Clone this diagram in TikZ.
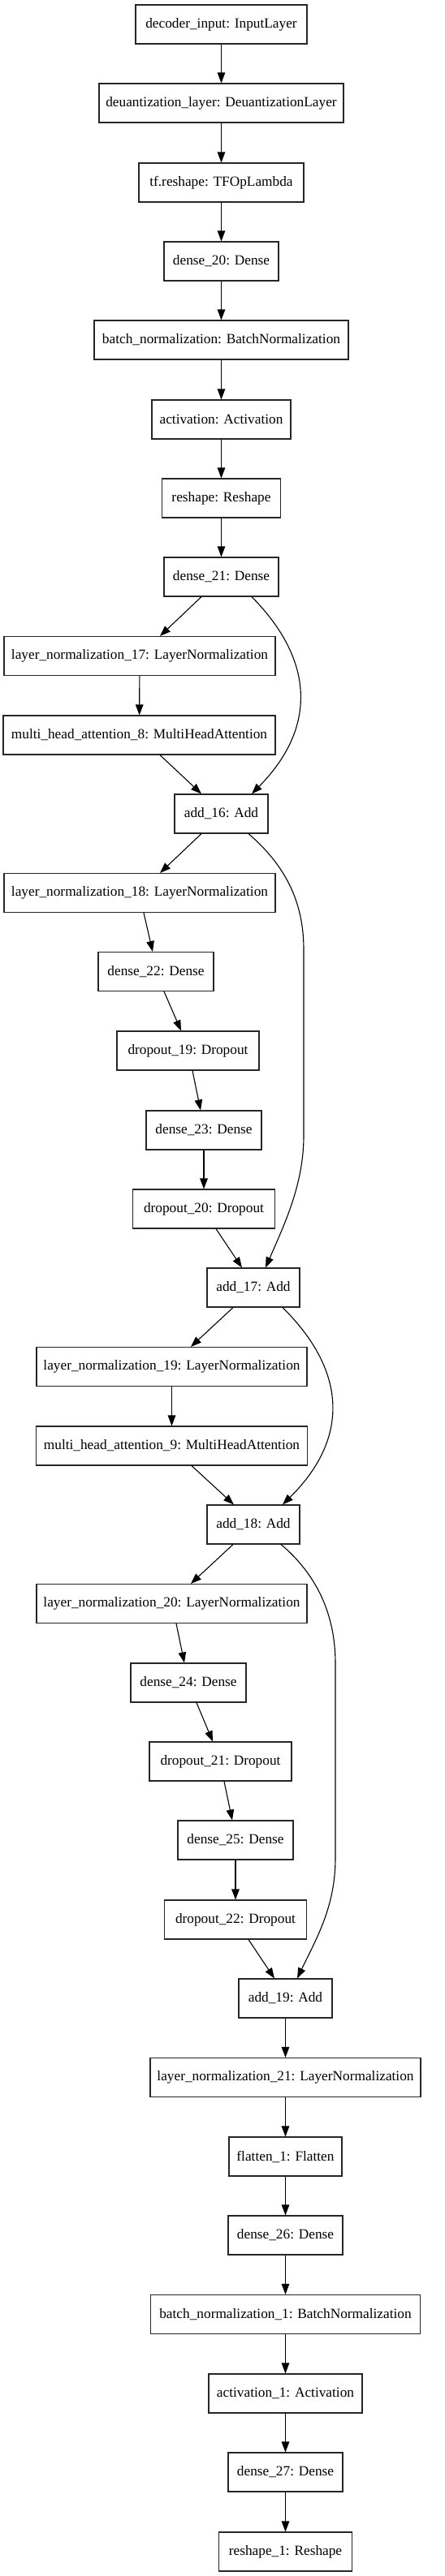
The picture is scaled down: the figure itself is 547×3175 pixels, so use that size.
\documentclass[tikz,border=0pt]{standalone}
\usepackage{fontspec}
\setmainfont{Liberation Serif}
\usetikzlibrary{arrows.meta}
\begin{document}
\begin{tikzpicture}[x=1pt,y=1pt,
  box/.style={draw=black!85, line width=1.1pt, rectangle, inner sep=0pt, minimum height=48pt,
    font=\fontsize{17.3}{20}\selectfont},
  arr/.style={draw=black, line width=1.1pt, -{Triangle[length=13pt,width=9.5pt]}}]
\useasboundingbox (0,0) rectangle (547,-3175);
\fill[white] (0,0) rectangle (547,-3175);
% nodes
\node[box, minimum width=211pt] (inp) at (272.5,-30) {decoder\_input: InputLayer};
\node[box, minimum width=301pt] (deq) at (272.5,-127) {deuantization\_layer: DeuantizationLayer};
\node[box, minimum width=203pt] (tfr) at (272.5,-225) {tf.reshape: TFOpLambda};
\node[box, minimum width=141pt] (d20) at (272.5,-322) {dense\_20: Dense};
\node[box, minimum width=313pt] (bn) at (272.5,-419) {batch\_normalization: BatchNormalization};
\node[box, minimum width=171pt] (act) at (272.5,-517) {activation: Activation};
\node[box, minimum width=146pt] (rsh) at (272.5,-614) {reshape: Reshape};
\node[box, minimum width=141pt] (d21) at (272.5,-711) {dense\_21: Dense};
\node[box, minimum width=334pt] (ln17) at (172,-808.5) {layer\_normalization\_17: LayerNormalization};
\node[box, minimum width=335pt] (mha8) at (171.5,-906) {multi\_head\_attention\_8: MultiHeadAttention};
\node[box, minimum width=115pt] (add16) at (272.5,-1003) {add\_16: Add};
\node[box, minimum width=334pt] (ln18) at (172,-1100.5) {layer\_normalization\_18: LayerNormalization};
\node[box, minimum width=142pt] (d22) at (192,-1197.5) {dense\_22: Dense};
\node[box, minimum width=175pt] (do19) at (231.5,-1295) {dropout\_19: Dropout};
\node[box, minimum width=142pt] (d23) at (251,-1393) {dense\_23: Dense};
\node[box, minimum width=175pt] (do20) at (251,-1490) {dropout\_20: Dropout};
\node[box, minimum width=114pt] (add17) at (312,-1587) {add\_17: Add};
\node[box, minimum width=333pt] (ln19) at (211.5,-1684.5) {layer\_normalization\_19: LayerNormalization};
\node[box, minimum width=334pt] (mha9) at (211.5,-1782) {multi\_head\_attention\_9: MultiHeadAttention};
\node[box, minimum width=114pt] (add18) at (312,-1879) {add\_18: Add};
\node[box, minimum width=333pt] (ln20) at (211.5,-1976.5) {layer\_normalization\_20: LayerNormalization};
\node[box, minimum width=142pt] (d24) at (232,-2074) {dense\_24: Dense};
\node[box, minimum width=175pt] (do21) at (271.5,-2171) {dropout\_21: Dropout};
\node[box, minimum width=142pt] (d25) at (290,-2268) {dense\_25: Dense};
\node[box, minimum width=175pt] (do22) at (290,-2366) {dropout\_22: Dropout};
\node[box, minimum width=115pt] (add19) at (351.5,-2463) {add\_19: Add};
\node[box, minimum width=333pt] (ln21) at (351.5,-2560.5) {layer\_normalization\_21: LayerNormalization};
\node[box, minimum width=139pt] (fl1) at (351.5,-2658) {flatten\_1: Flatten};
\node[box, minimum width=141pt] (d26) at (351.5,-2755) {dense\_26: Dense};
\node[box, minimum width=332pt] (bn1) at (351.5,-2852.5) {batch\_normalization\_1: BatchNormalization};
\node[box, minimum width=189pt] (act1) at (351.5,-2950) {activation\_1: Activation};
\node[box, minimum width=141pt] (d27) at (351.5,-3047) {dense\_27: Dense};
\node[box, minimum width=164pt] (rsh1) at (351.5,-3145) {reshape\_1: Reshape};
% waypoints of the long skip connections
\coordinate (k2a) at (374,-1170);
\coordinate (k2b) at (374,-1400);
\coordinate (k4a) at (413,-2050);
\coordinate (k4b) at (413,-2290);
% straight chain
\draw[arr] (inp) -- (deq);
\draw[arr] (deq) -- (tfr);
\draw[arr] (tfr) -- (d20);
\draw[arr] (d20) -- (bn);
\draw[arr] (bn) -- (act);
\draw[arr] (act) -- (rsh);
\draw[arr] (rsh) -- (d21);
\draw[arr] ([xshift=-24.5pt]d21.south) -- ([xshift=25pt]ln17.north);
\draw[arr] (ln17) -- (mha8);
\draw[arr] ([xshift=25.5pt]mha8.south) -- ([xshift=-24.5pt]add16.north);
\draw[arr] ([xshift=37.5pt]d21.south) .. controls +(79,-80) and +(79,80) .. ([xshift=37.5pt]add16.north);
\draw[arr] ([xshift=-24.5pt]add16.south) -- ([xshift=25pt]ln18.north);
\draw[arr] ([xshift=5pt]ln18.south) -- ([xshift=-4pt]d22.north);
\draw[arr] ([xshift=10pt]d22.south) -- ([xshift=-8.5pt]do19.north);
\draw[arr] ([xshift=5.5pt]do19.south) -- ([xshift=-4pt]d23.north);
\draw[arr] (d23) -- (do20);
\draw[arr] ([xshift=15pt]do20.south) -- ([xshift=-14pt]add17.north);
\draw[arr] ([xshift=33.5pt]add16.south) .. controls +(44,-38) and +(0,60) .. (k2a) -- (k2b)
   .. controls +(0,-60) and +(23,53) .. ([xshift=15pt]add17.north);
\draw[arr] ([xshift=-25pt]add17.south) -- ([xshift=23.5pt]ln19.north);
\draw[arr] (ln19) -- (mha9);
\draw[arr] ([xshift=24.5pt]mha9.south) -- ([xshift=-24pt]add18.north);
\draw[arr] ([xshift=36pt]add17.south) .. controls +(81,-80) and +(81,80) .. ([xshift=36pt]add18.north);
\draw[arr] ([xshift=-25pt]add18.south) -- ([xshift=23.5pt]ln20.north);
\draw[arr] ([xshift=5.5pt]ln20.south) -- ([xshift=-5pt]d24.north);
\draw[arr] ([xshift=10pt]d24.south) -- ([xshift=-9.5pt]do21.north);
\draw[arr] ([xshift=4.5pt]do21.south) -- ([xshift=-4pt]d25.north);
\draw[arr] (d25) -- (do22);
\draw[arr] ([xshift=16pt]do22.south) -- ([xshift=-13.5pt]add19.north);
\draw[arr] ([xshift=34pt]add18.south) .. controls +(44,-37) and +(0,60) .. (k4a) -- (k4b)
   .. controls +(0,-60) and +(24,50) .. ([xshift=14.5pt]add19.north);
\draw[arr] (add19) -- (ln21);
\draw[arr] (ln21) -- (fl1);
\draw[arr] (fl1) -- (d26);
\draw[arr] (d26) -- (bn1);
\draw[arr] (bn1) -- (act1);
\draw[arr] (act1) -- (d27);
\draw[arr] (d27) -- (rsh1);
\end{tikzpicture}
\end{document}
